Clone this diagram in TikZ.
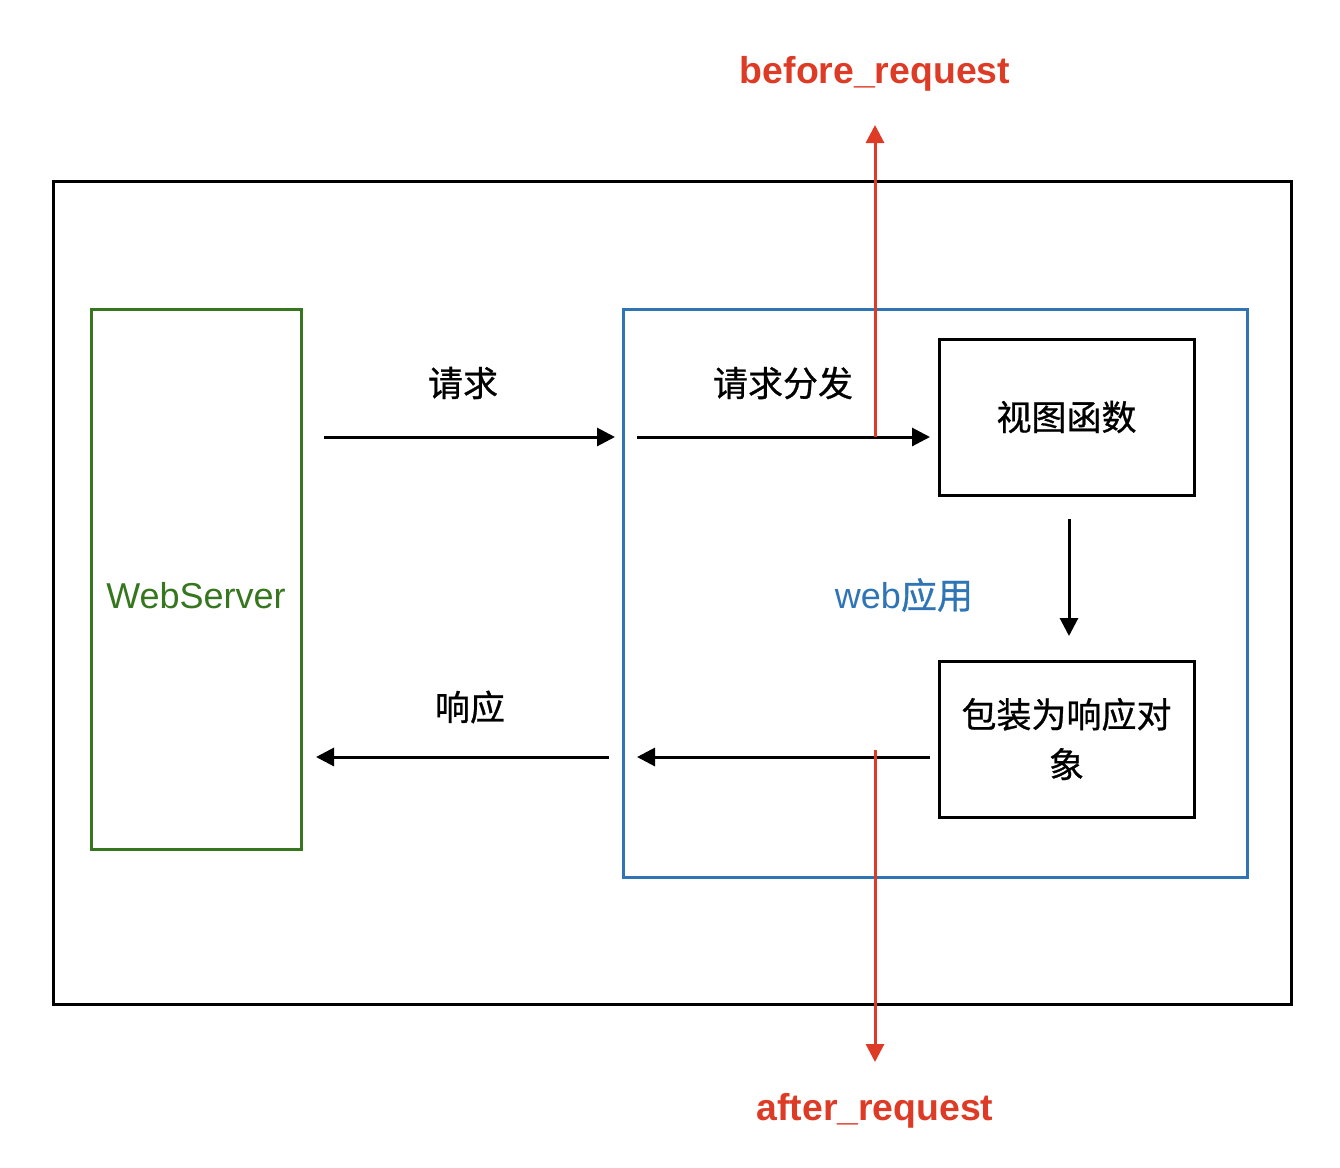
\documentclass[tikz,border=0pt]{standalone}
\usepackage{fontspec}
\setmainfont{Liberation Sans}
\newfontfamily\cjk[FakeBold=0.8]{Noto Sans CJK SC}
\usetikzlibrary{arrows.meta}
\definecolor{wsgreen}{HTML}{36761F}
\definecolor{appblue}{HTML}{2F75B5}
\definecolor{hookred}{HTML}{DE3B26}
\tikzset{
  px/.style={x=0.5pt,y=-0.5pt},
  frame/.style={draw=black,line width=1.5pt},
  box/.style={draw=black,line width=1.5pt,minimum width=127.5pt,minimum height=78pt,inner sep=0pt,align=center,font=\cjk\fontsize{17.5}{25}\selectfont},
  flow/.style={line width=1.5pt,-{Triangle[length=9pt,width=9pt]}},
  hook/.style={draw=hookred,line width=1.5pt,-{Triangle[length=9pt,width=9pt]}},
  lbl/.style={font=\cjk\fontsize{17.5}{21}\selectfont,inner sep=0pt},
  hooklbl/.style={text=hookred,font=\bfseries\fontsize{18.7}{22}\selectfont,inner sep=0pt}
}
\begin{document}
\begin{tikzpicture}[px]
\useasboundingbox (0,0) rectangle (1340,1168);
% outer frame
\draw[frame] (53,181) rectangle (1291,1004);
% WebServer
\draw[draw=wsgreen,line width=1.5pt] (91,309) rectangle (301,849);
\node[text=wsgreen,font=\fontsize{18}{22}\selectfont,inner sep=0pt] (ws) at (196,596) {WebServer};
% web app
\draw[draw=appblue,line width=1.5pt] (623,309) rectangle (1247,877);
\node[text=appblue,font=\fontsize{18}{22}\selectfont,inner sep=0pt] (app) at (904,595) {web{\cjk 应用}};
% boxes
\node[box] (view) at (1066.5,417) {视图函数};
\node[box] (wrap) at (1066.5,739) {包装为响应对\\象};
% coordinates
\coordinate (a1s) at (324,437); \coordinate (a1e) at (615,437);
\coordinate (a2s) at (637,437); \coordinate (a2e) at (930,437);
\coordinate (d1s) at (1069,519); \coordinate (d1e) at (1069,636);
\coordinate (b1s) at (930,757); \coordinate (b1e) at (637,757);
\coordinate (b2s) at (609,757); \coordinate (b2e) at (316,757);
\coordinate (r1s) at (875,437); \coordinate (r1e) at (875,125);
\coordinate (r2s) at (875,750); \coordinate (r2e) at (875,1062);
% flow arrows
\draw[flow] (a1s) -- (a1e);
\draw[flow] (a2s) -- (a2e);
\draw[flow] (d1s) -- (d1e);
\draw[flow] (b1s) -- (b1e);
\draw[flow] (b2s) -- (b2e);
% hooks
\draw[hook] (r1s) -- (r1e);
\draw[hook] (r2s) -- (r2e);
% labels
\node[lbl] (l1) at (463,383) {请求};
\node[lbl] (l2) at (783,383) {请求分发};
\node[lbl] (l3) at (470,707) {响应};
\node[hooklbl] (before) at (875,74) {before\_request};
\node[hooklbl] (after) at (875,1111) {after\_request};
\end{tikzpicture}
\end{document}
